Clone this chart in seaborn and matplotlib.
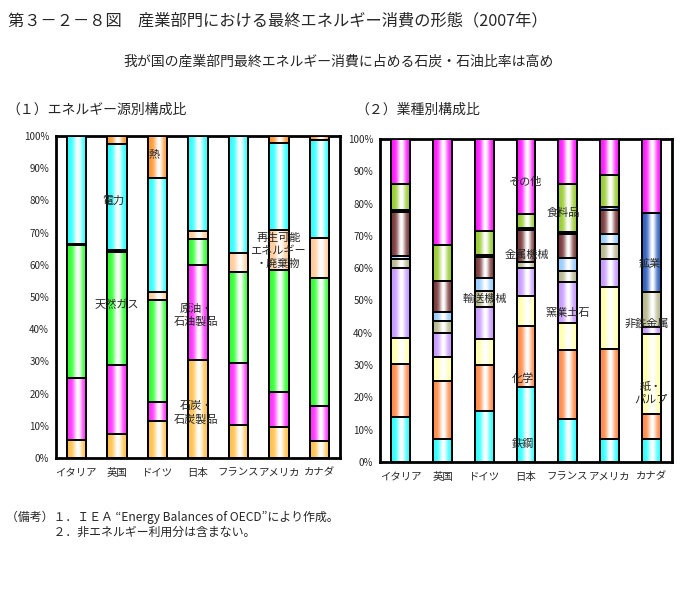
import numpy as np
import pandas as pd
import matplotlib
matplotlib.use("Agg")
import matplotlib.pyplot as plt
import matplotlib.colors as mcolors
from matplotlib.patches import Rectangle
from matplotlib.ticker import MultipleLocator, FixedLocator, FuncFormatter
import seaborn as sns

countries = ["イタリア", "英国", "ドイツ", "日本", "フランス", "アメリカ", "カナダ"]

# (1) エネルギー源別構成比 (%)
coal = [5.5, 7.4, 11.6, 30.3, 10.2, 9.7, 5.3]
oil = [19.2, 21.6, 5.8, 29.7, 19.4, 10.8, 10.9]
gas = [41.3, 35.0, 31.6, 7.9, 28.3, 37.8, 39.6]
renew = [0.6, 0.6, 2.4, 2.7, 5.7, 12.6, 12.4]
elec = [33.4, 32.9, 35.5, 29.4, 36.4, 27.0, 30.6]
heat = [0.0, 2.5, 13.1, 0.0, 0.0, 2.1, 1.2]
source_colors = ["#FFC24D", "#FF33FF", "#33FF33", "#FFCC99", "#33FFFF", "#FF9933"]

# (2) 業種別構成比 (%)
steel = [13.9, 7.1, 15.9, 23.2, 13.4, 7.1, 7.1]
chem = [16.4, 18.0, 14.1, 18.9, 21.4, 27.8, 7.8]
paper = [8.2, 7.3, 8.2, 9.2, 8.2, 19.4, 24.8]
ceramics = [21.7, 7.6, 9.7, 8.7, 12.6, 8.6, 2.1]
nonferrous = [2.6, 3.5, 5.1, 2.0, 3.6, 4.7, 10.7]
transport = [1.1, 2.8, 4.1, 0.0, 4.1, 3.1, 0.0]
machinery = [13.4, 9.6, 6.3, 9.7, 7.2, 7.2, 0.0]
mining = [0.7, 0.0, 0.7, 0.6, 0.8, 1.0, 24.7]
food = [8.0, 11.2, 7.5, 4.4, 14.7, 10.0, 0.0]
other = [14.0, 32.9, 28.4, 23.3, 14.0, 11.1, 22.8]
sector_colors = ["#33FFFF", "#FF8C4A", "#FFFFB0", "#C89BFF", "#B8B890",
                 "#99CCFF", "#7A3A3A", "#3060C0", "#99CC33", "#FF1AFF"]


def shade(ax, p, color, z):
    x0, y0 = p.get_x(), p.get_y()
    w, h = p.get_width(), p.get_height()
    if h <= 0:
        return
    rgb = np.array(mcolors.to_rgb(color))
    t = np.linspace(0, 1, 80)
    wgt = np.exp(-((t - 0.55) / 0.22) ** 2)
    img = rgb[None, :] * (1 - wgt[:, None]) + wgt[:, None]
    ax.imshow(img[None, :, :], extent=(x0, x0 + w, y0, y0 + h), aspect="auto",
              zorder=z + 0.5, interpolation="bilinear")
    ax.add_patch(Rectangle((x0, y0), w, h, fill=False, ec="black", lw=1.4, zorder=z + 1))


def stacked(ax, layers, colors, width):
    cum = np.cumsum(np.array(layers), axis=0)
    n = len(layers)
    for k in range(n - 1, -1, -1):
        df = pd.DataFrame({"国": countries, "値": cum[k]})
        before = len(ax.patches)
        sns.barplot(data=df, x="国", y="値", color=colors[k], width=width, ax=ax,
                    saturation=1, errorbar=None, linewidth=0)
        z = (n - k) * 3
        for p in list(ax.patches[before:]):
            p.set_zorder(z)
            shade(ax, p, colors[k], z)
    ax.set_xlim(-0.5, 6.5)
    ax.set_ylim(0, 100)
    ax.set_xlabel("")
    ax.set_ylabel("")
    ax.yaxis.set_major_locator(MultipleLocator(10))
    ax.yaxis.set_major_formatter(FuncFormatter(lambda v, _: f"{int(v)}%"))
    ax.xaxis.set_minor_locator(FixedLocator([i + 0.5 for i in range(6)]))
    ax.tick_params(axis="y", labelsize=7, length=3, width=1, direction="out", pad=2)
    ax.tick_params(axis="x", which="major", labelsize=7.5, length=0, pad=7)
    ax.tick_params(axis="x", which="minor", length=2.5, width=1, direction="in")
    for s in ax.spines.values():
        s.set_visible(True)
        s.set_linewidth(2)
        s.set_color("black")


sns.set_style("white")
plt.rcParams["font.family"] = ["Noto Sans CJK JP", "DejaVu Sans"]

fig = plt.figure(figsize=(6.82, 5.89), dpi=100)
W, H = 682, 589


def px(x, y):
    return x / W, 1 - y / H


ax1 = fig.add_axes([56 / W, 1 - 458 / H, 284 / W, 322 / H])
ax2 = fig.add_axes([380 / W, 1 - 462 / H, 292 / W, 323 / H])

stacked(ax1, [coal, oil, gas, renew, elec, heat], source_colors, 0.48)
stacked(ax2, [steel, chem, paper, ceramics, nonferrous, transport, machinery, mining, food, other],
        sector_colors, 0.45)

lab = dict(fontsize=8, ha="center", va="center", zorder=100)
ax1.text(1.93, 94.4, "熱", **lab)
ax1.text(0.91, 79.8, "電力", **lab)
ax1.text(1.01, 47.5, "天然ガス", **lab)
ax1.text(2.95, 44.4, "原油・\n石油製品", linespacing=1.3, **lab)
ax1.text(2.95, 14.0, "石炭・\n石炭製品", linespacing=1.3, **lab)
ax1.text(4.98, 64.3, "再生可能\nエネルギー\n・廃棄物", linespacing=1.3, **lab)

ax2.text(2.98, 86.7, "その他", **lab)
ax2.text(3.89, 77.1, "食料品", **lab)
ax2.text(3.03, 64.1, "金属機械", **lab)
ax2.text(5.97, 61.3, "鉱業", **lab)
ax2.text(2.02, 50.5, "輸送機械", **lab)
ax2.text(4.01, 46.1, "窯業土石", **lab)
ax2.text(5.9, 43.0, "非鉄金属", **lab)
ax2.text(6.0, 21.4, "紙・\nパルプ", linespacing=1.3, **lab)
ax2.text(2.93, 26.0, "化学", **lab)
ax2.text(2.93, 5.6, "鉄鋼", **lab)

fig.text(*px(8, 21), "第３－２－８図　産業部門における最終エネルギー消費の形態（2007年）",
         fontsize=11.7, va="center", ha="left")
fig.text(*px(339, 62), "我が国の産業部門最終エネルギー消費に占める石炭・石油比率は高め",
         fontsize=10, va="center", ha="center")
fig.text(*px(6, 110), "（１）エネルギー源別構成比", fontsize=10, va="center", ha="left")
fig.text(*px(355, 110), "（２）業種別構成比", fontsize=10, va="center", ha="left")
fig.text(*px(6, 517), "（備考）１．ＩＥＡ “Energy Balances of OECD”により作成。",
         fontsize=8.6, va="center", ha="left")
fig.text(*px(6, 532), "　　　　２．非エネルギー利用分は含まない。",
         fontsize=8.6, va="center", ha="left")

fig.savefig("out.png", dpi=100)
